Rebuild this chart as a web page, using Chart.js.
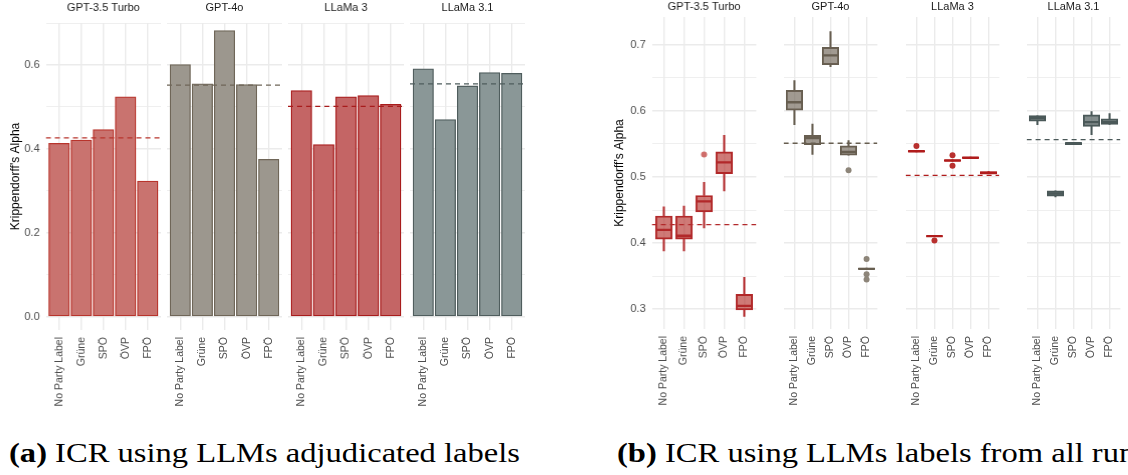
<!DOCTYPE html>
<html>
<head>
<meta charset="utf-8">
<script src="https://cdn.jsdelivr.net/npm/chart.js@4.4.0/dist/chart.umd.min.js"></script>
<style>
body{margin:0;background:#fff;width:1128px;height:475px;overflow:hidden;position:relative}
.facet{position:absolute;top:0}
.cap{position:absolute;top:439px;font-family:"Liberation Serif",serif;font-size:28px;line-height:1;white-space:nowrap;color:#000;transform-origin:0 0}
</style>
</head>
<body>
<div class="cap" id="capA" style="left:9px"><b>(a)</b> ICR using LLMs adjudicated labels</div>
<div class="cap" id="capB" style="left:617px"><b>(b)</b> ICR using LLMs labels from all runs</div>
<script>
// CATEGORIES
const parties = ["No Party Label", "Grüne", "SPÖ", "ÖVP", "FPÖ"];
const models = ["GPT-3.5 Turbo", "GPT-4o", "LLaMa 3", "LLaMa 3.1"];

// (a) ADJUDICATED LABELS - one value per party
const adjGpt35 = [0.413, 0.421, 0.446, 0.524, 0.323];
const adjGpt4o = [0.601, 0.555, 0.682, 0.553, 0.375];
const adjLlama3 = [0.539, 0.410, 0.524, 0.527, 0.506];
const adjLlama31 = [0.591, 0.470, 0.550, 0.582, 0.580];
const adjMean = [0.426, 0.552, 0.501, 0.555];

// (b) ALL RUNS - box plot stats per model (rows) and party (cols)
const runLow = [
	[0.388, 0.388, 0.423, 0.479, 0.289],
	[0.579, 0.534, 0.667, 0.533, 0.360],
	[0.538, 0.410, 0.524, 0.528, 0.505],
	[0.579, 0.470, 0.549, 0.564, 0.5795]
];
const runQ1 = [
	[0.406, 0.406, 0.447, 0.505, 0.299],
	[0.601, 0.549, 0.670, 0.533, 0.360],
	[0.538, 0.410, 0.524, 0.528, 0.505],
	[0.5845, 0.471, 0.549, 0.5765, 0.5795]
];
const runMedian = [
	[0.420, 0.411, 0.463, 0.522, 0.305],
	[0.613, 0.559, 0.684, 0.538, 0.361],
	[0.539, 0.4105, 0.525, 0.529, 0.506],
	[0.589, 0.475, 0.551, 0.583, 0.583]
];
const runQ3 = [
	[0.441, 0.441, 0.472, 0.538, 0.3225],
	[0.631, 0.563, 0.696, 0.547, 0.362],
	[0.540, 0.411, 0.526, 0.530, 0.508],
	[0.593, 0.479, 0.552, 0.594, 0.588]
];
const runHigh = [
	[0.455, 0.456, 0.492, 0.563, 0.348],
	[0.646, 0.580, 0.720, 0.555, 0.362],
	[0.540, 0.411, 0.526, 0.530, 0.508],
	[0.593, 0.479, 0.552, 0.599, 0.596]
];
// outliers as [party index, value]
const runOutliers = [
	[[2, 0.534]],
	[[3, 0.510], [4, 0.376], [4, 0.353], [4, 0.345]],
	[[0, 0.547], [1, 0.404], [2, 0.533], [2, 0.517]],
	[]
];
const runMean = [0.428, 0.551, 0.5025, 0.5565];

// COLOURS
const fillA = ["#c9736f", "#9c978e", "#c46565", "#8a9797"];
const lineA = ["#b8342c", "#6f6658", "#a81c1c", "#4f5d5d"];
const fillB = ["rgba(178,40,36,0.62)", "rgba(110,100,86,0.65)", "rgba(176,28,28,0.65)", "rgba(78,93,93,0.7)"];
const lineB = ["#b2282a", "#675e50", "#b01c1c", "#4b5959"];
const outB = ["#cf6d6a", "#8d8579", "#b8302e", "#6a7777"];

Chart.defaults.font.family = '"Liberation Sans", Arial, sans-serif';

const H = 420;

function facet(left, plotW, idx, cfg, datasets) {
	const yW = idx === 0 ? 45.5 : 0;
	const div = document.createElement("div");
	div.className = "facet";
	div.style.left = (left - yW) + "px";
	const cv = document.createElement("canvas");
	cv.width = plotW + yW;
	cv.height = H;
	cv.style.width = (plotW + yW) + "px";
	cv.style.height = H + "px";
	div.appendChild(cv);
	document.body.appendChild(div);

	const isMajor = v => Math.abs(v / cfg.major - Math.round(v / cfg.major)) < 1e-6;
	datasets.forEach(d => { d.xAxisID = "x"; d.yAxisID = "y"; });

	new Chart(cv, {
		type: "bar",
		data: { datasets: datasets },
		options: {
			responsive: false,
			animation: false,
			layout: { padding: 0 },
			plugins: {
				legend: { display: false },
				tooltip: { enabled: false }
			},
			scales: {
				x: {
					type: "linear",
					min: 0.4,
					max: 5.6,
					offset: false,
					grid: { color: "#ebebeb", lineWidth: 1.4, drawTicks: false, offset: false },
					border: { display: false },
					ticks: {
						stepSize: 1,
						includeBounds: false,
						autoSkip: false,
						maxRotation: 90,
						minRotation: 90,
						padding: 7,
						color: "#4d4d4d",
						font: { size: 10.5 },
						callback: v => {
							const r = Math.round(v);
							return Math.abs(v - r) < 1e-6 ? parties[r - 1] : "";
						}
					},
					afterFit: s => {
						s.height = H - cfg.bottom;
						s.paddingLeft = 0;
						s.paddingRight = 0;
					}
				},
				y: {
					min: cfg.yMin,
					max: cfg.yMax,
					beginAtZero: false,
					grid: {
						color: "#ebebeb",
						drawTicks: false,
						lineWidth: c => isMajor(c.tick.value) ? 1.4 : 0.8
					},
					border: { display: false },
					ticks: {
						display: idx === 0,
						stepSize: cfg.step,
						includeBounds: false,
						maxTicksLimit: 30,
						padding: 6,
						color: "#4d4d4d",
						font: { size: 11 },
						callback: v => isMajor(v) ? v.toFixed(1) : ""
					},
					title: {
						display: idx === 0,
						text: "Krippendorff's Alpha",
						color: "#000",
						font: { size: 12 },
						padding: { top: cfg.yTitlePad, bottom: 0 }
					},
					afterFit: s => {
						s.width = yW;
						s.paddingTop = 0;
						s.paddingBottom = 0;
					}
				},
				// facet strip: a top axis whose title sits centred over the panel
				strip: {
					type: "linear",
					position: "top",
					min: 0.4,
					max: 5.6,
					grid: { display: false, drawTicks: false },
					border: { display: false },
					ticks: { display: false },
					title: {
						display: true,
						text: models[idx],
						color: "#1a1a1a",
						font: { size: 11 },
						padding: { top: cfg.tPad, bottom: 0 }
					},
					afterFit: s => {
						s.height = cfg.top;
						s.paddingLeft = 0;
						s.paddingRight = 0;
					}
				}
			}
		}
	});
}

function dashed(mean, colour) {
	return {
		type: "line",
		data: [{ x: 0.4, y: mean }, { x: 5.6, y: mean }],
		borderColor: colour,
		borderDash: [5, 4],
		borderWidth: 1.3,
		pointRadius: 0,
		order: 0
	};
}

// PANEL A
const adjAll = [adjGpt35, adjGpt4o, adjLlama3, adjLlama31];
const cfgA = { top: 23, bottom: 330, yMin: -0.032, yMax: 0.70, step: 0.1, major: 0.2, tPad: 1, yTitlePad: 8 };
adjAll.forEach((vals, i) => {
	facet(45.5 + i * 121.4, 115.3, i, cfgA, [
		dashed(adjMean[i], lineA[i]),
		{
			type: "bar",
			data: vals.map((v, k) => ({ x: k + 1, y: v })),
			backgroundColor: fillA[i],
			borderColor: lineA[i],
			borderWidth: 1.3,
			borderSkipped: false,
			barThickness: 20.5,
			grouped: false,
			order: 1
		}
	]);
});

// PANEL B
const cfgB = { top: 17, bottom: 329, yMin: 0.27, yMax: 0.742, step: 0.05, major: 0.1, tPad: 0, yTitlePad: 6.5 };
models.forEach((m, i) => {
	const pts = arr => arr.map((v, k) => ({ x: k + 1, y: v }));
	const range = (a, b) => a.map((v, k) => ({ x: k + 1, y: [v, b[k]] }));
	facet(651.8 + i * 121.5, 115.2, i, cfgB, [
		dashed(runMean[i], lineB[i]),
		{
			type: "line",
			data: pts(runMedian[i]),
			showLine: false,
			pointStyle: "line",
			pointRadius: 8.2,
			pointBorderWidth: 2.4,
			pointBorderColor: lineB[i],
			order: 1
		},
		{
			type: "line",
			data: runOutliers[i].map(o => ({ x: o[0] + 1, y: o[1] })),
			showLine: false,
			pointRadius: 3,
			pointBorderWidth: 0,
			pointBackgroundColor: outB[i],
			order: 2
		},
		{
			type: "bar",
			data: range(runQ1[i], runQ3[i]),
			backgroundColor: fillB[i],
			borderColor: lineB[i],
			borderWidth: 1.3,
			borderSkipped: false,
			barThickness: 16.5,
			grouped: false,
			order: 3
		},
		{
			type: "bar",
			data: range(runQ3[i], runHigh[i]),
			backgroundColor: lineB[i],
			borderWidth: 0,
			barThickness: 1.4,
			grouped: false,
			order: 4
		},
		{
			type: "bar",
			data: range(runLow[i], runQ1[i]),
			backgroundColor: lineB[i],
			borderWidth: 0,
			barThickness: 1.4,
			grouped: false,
			order: 4
		}
	]);
});

// fit captions to the printed width
const capA = document.getElementById("capA");
const capB = document.getElementById("capB");
const k = 511 / capA.getBoundingClientRect().width;
capA.style.transform = "scaleX(" + k + ")";
capB.style.transform = "scaleX(" + k + ")";
</script>
</body>
</html>
